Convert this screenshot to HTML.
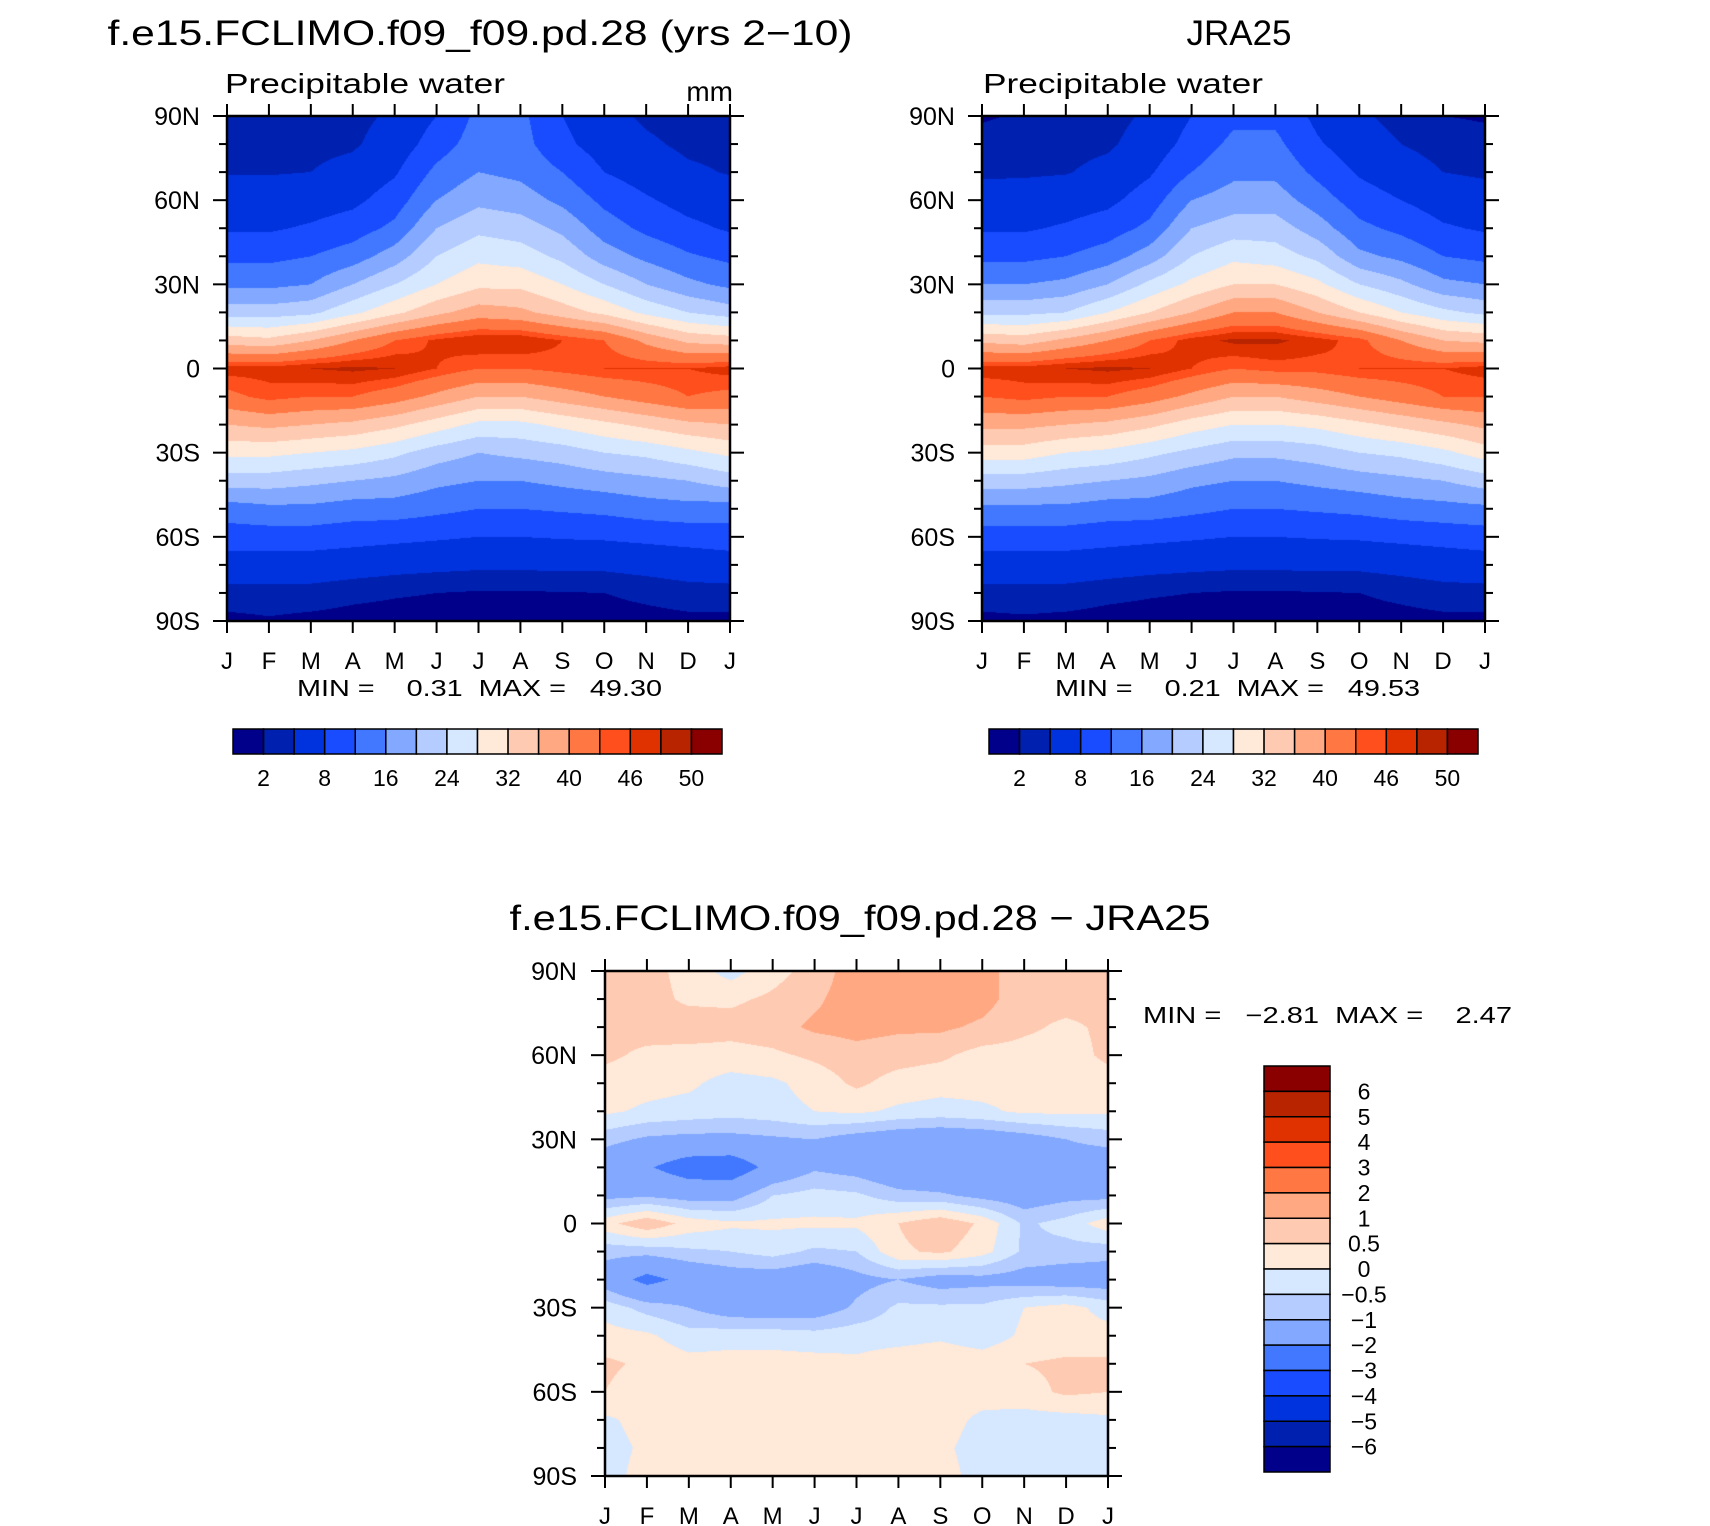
<!DOCTYPE html>
<html><head><meta charset="utf-8">
<style>
html,body{margin:0;padding:0;background:#fff;}
#wrap{position:relative;width:1710px;height:1526px;overflow:hidden;font-family:"Liberation Sans",sans-serif;}
canvas{position:absolute;}
svg{position:absolute;left:0;top:0;}
svg text{font-family:"Liberation Sans",sans-serif;fill:#000;white-space:pre;}
</style></head>
<body>
<div id="wrap">
<canvas id="c1"></canvas>
<canvas id="c2"></canvas>
<canvas id="c3"></canvas>
<svg id="ov" width="1710" height="1526">
<text x="480" y="45" font-size="35" text-anchor="middle" textLength="745" lengthAdjust="spacingAndGlyphs">f.e15.FCLIMO.f09_f09.pd.28 (yrs 2−10)</text>
<text x="225" y="93" font-size="28" textLength="280" lengthAdjust="spacingAndGlyphs">Precipitable water</text>
<text x="733" y="101" font-size="28" text-anchor="end">mm</text>
<text x="297" y="696" font-size="23" textLength="365" lengthAdjust="spacingAndGlyphs">MIN =    0.31  MAX =   49.30</text>
<text x="1239" y="45" font-size="35" text-anchor="middle">JRA25</text>
<text x="983" y="93" font-size="28" textLength="280" lengthAdjust="spacingAndGlyphs">Precipitable water</text>
<text x="1055" y="696" font-size="23" textLength="365" lengthAdjust="spacingAndGlyphs">MIN =    0.21  MAX =   49.53</text>
<text x="860" y="930" font-size="35" text-anchor="middle" textLength="701" lengthAdjust="spacingAndGlyphs">f.e15.FCLIMO.f09_f09.pd.28 − JRA25</text>
<text x="1143" y="1023" font-size="23" textLength="369" lengthAdjust="spacingAndGlyphs">MIN =   −2.81  MAX =    2.47</text>
</svg>
</div>
<script>
const monthLabels=['J','F','M','A','M','J','J','A','S','O','N','D','J'];
const latLabels=['90N','60N','30N','0','30S','60S','90S'];
const latGrid=[90,80,70,60,50,40,30,20,10,0,-10,-20,-30,-40,-50,-60,-70,-80,-90];
const levelsPW=[2,4,8,12,16,20,24,28,32,36,40,44,46,48,50];
const levelLabelsPW=['2','8','16','24','32','40','46','50'];
const levelsDiff=[-6,-5,-4,-3,-2,-1,-0.5,0,0.5,1,2,3,4,5,6];
const levelLabelsDiff=['6','5','4','3','2','1','0.5','0','−0.5','−1','−2','−3','−4','−5','−6'];
const colors=['#00008a','#0020b0','#0033dd','#1a4cff','#4178ff','#82a8ff','#b4ccff','#d6e8ff','#ffe9d8','#ffcab2','#ffa882','#ff7844','#ff4f1c','#e03200','#b82300','#8a0000'];

// model precipitable water, one array per month, lat 90N -> 90S
const modelJan=[3,3.2,3.8,5.5,7.5,11,15,22,34,47,43,36,29,22,14,10,6,3,1.5];
const modelFeb=[3,3.2,3.8,5.5,7.5,11,15,22,33,47,45,37,29,22,15,10,6,3,1.8];
const modelMar=[3,3.3,4,6,8.5,12,16,23,36,48,44,36,28,21,15,10,6,3,1.5];
const modelApr=[3.2,3.6,5,7,10,14,20,27,40,48.5,44,35,27,20,14,9.5,5.5,2.5,1.3];
const modelMay=[4.5,5.5,7.5,10,13,18,24,31,44,48,42,33,25,19,14,9,5,2.2,1.2];
const modelJun=[8,10,13,16,20,24,28,35,46.5,46,39,30,22,17,13,8.5,4.7,2,1.1];
const modelJul=[13,14,16,19,23,27,31,38,48,44,36,27,20,16,12,8,4.5,1.8,1];
const modelAug=[13,13.5,15,18,22,26,31,37,48,44,36,27,21,16,12,8,4.5,1.8,1];
const modelSep=[8,9,12,15,19,23,28,34,46,45,38,29,22,17,12.5,8.3,4.6,1.9,1];
const modelOct=[5,6,8,11,14,18,24,31,44,46,40,31,24,18,13,8.5,4.6,2,1.1];
const modelNov=[3.5,4.5,6,8.5,11,15,20,27,39,46,42,33,25,19,14,9,5,2.5,1.3];
const modelDec=[3,3.4,4.5,6.5,9,12.5,17,24,35,46,44,35,27,20,14.5,9.5,5.5,3,1.5];

// JRA25 precipitable water
const jraJan=[1.8,2.6,3.5,5.5,7.5,11,16,23,35,47,44,37,30,22,15,10,6,3,1.5];
const jraFeb=[2.2,2.8,3.6,5.5,7.5,11,16,23,34,47,45,37,30,22,15,10,6,3,1.7];
const jraMar=[2.5,3,3.8,6,8.5,12,17,24,37,48,44,36,28,21,15,10,6,3,1.5];
const jraApr=[3,3.5,5,7,10,14,20,28,40,48.5,44,35,27,20,14,9.5,5.5,2.5,1.3];
const jraMay=[4.5,5.5,7.5,10,13,18,25,32,44,48,42,33,25,19,14,9,5,2.2,1.2];
const jraJun=[8,9.5,12,16,20,24,29,36,47,46,39,30,23,17,13,8.5,4.7,2,1.1];
const jraJul=[11,13,15,18,22,27,32,40,48.5,44,36,28,21,16,12,8,4.5,1.8,1];
const jraAug=[11,13,15,18,22,26,32,40,48.5,45,36,28,21,16,12,8,4.5,1.8,1];
const jraSep=[7,8.5,11,14,18,23,29,36,47,45,38,29,22,17,12.5,8.3,4.6,1.9,1];
const jraOct=[4.5,5.5,7.5,10,13,17,24,32,45,46,40,31,24,18,13,8.5,4.6,2,1.1];
const jraNov=[3,4,5.5,8,11,15,21,28,40,46,42,33,25,19,14,9,5,2.5,1.3];
const jraDec=[2,3,4,6,8.5,12,17,25,36,46,44,35,27,20,14.5,9.5,5.5,3,1.5];

// difference model - JRA25
const diffJan=[0.7,0.7,0.6,0.6,0.3,0.1,-0.8,-1.5,-1.2,0.3,-0.8,-1.4,-0.2,0.2,0.6,0.5,-0.1,-0.2,-0.2];
const diffFeb=[0.7,0.7,0.7,0.4,0.2,-0.1,-1.1,-1.9,-1.1,0.9,-0.8,-2.3,-0.7,0.1,0.4,0.2,0.2,0.1,0.2];
const diffMar=[0.3,0.4,0.8,0.3,0.1,-0.2,-1.2,-2.5,-1.3,0.3,-0.6,-1.7,-1.0,-0.3,0.2,0.2,0.2,0.2,0.2];
const diffApr=[-0.2,0.4,0.7,0.3,-0.2,-0.3,-1.2,-2.6,-1.3,0.1,-0.5,-1.4,-1.4,-0.2,0.2,0.1,0.2,0.2,0.2];
const diffMay=[0.3,0.6,0.8,0.4,-0.1,-0.2,-1.1,-1.7,-0.5,0.1,-0.3,-1.4,-1.5,-0.2,0.2,0.1,0.2,0.2,0.2];
const diffJun=[0.7,0.9,1.1,0.6,0.2,0.0,-1.0,-1.1,-0.3,0.1,-0.6,-1.6,-1.4,-0.3,0.2,0.2,0.2,0.2,0.2];
const diffJul=[1.3,1.3,1.2,0.8,0.6,0.1,-1.3,-1.3,-0.4,0.1,-0.5,-1.2,-0.9,-0.2,0.1,0.2,0.2,0.2,0.2];
const diffAug=[1.3,1.4,1.1,0.7,0.3,-0.1,-1.5,-1.7,-0.8,0.5,0.4,-1.0,-0.4,-0.2,0.3,0.2,0.2,0.2,0.2];
const diffSep=[1.3,1.4,1.1,0.6,0.2,-0.2,-1.6,-1.8,-0.9,0.9,0.6,-1.3,-0.4,-0.1,0.4,0.2,0.2,0.1,0.2];
const diffOct=[1.2,1.2,0.9,0.3,0.2,-0.1,-1.5,-1.6,-1.2,0.4,0.2,-1.2,-0.4,-0.3,0.3,0.2,-0.1,-0.2,-0.2];
const diffNov=[0.7,0.7,0.6,0.3,0.2,0.1,-1.3,-1.7,-1.4,-0.6,-0.6,-1.3,0.0,0.1,0.5,0.3,-0.2,-0.3,-0.2];
const diffDec=[0.7,0.7,0.4,0.3,0.2,0.1,-1.0,-1.4,-1.2,-0.3,-0.7,-1.4,0.2,0.2,0.6,0.6,-0.2,-0.3,-0.2];

const modelData=[modelJan,modelFeb,modelMar,modelApr,modelMay,modelJun,modelJul,modelAug,modelSep,modelOct,modelNov,modelDec];
const jraData=[jraJan,jraFeb,jraMar,jraApr,jraMay,jraJun,jraJul,jraAug,jraSep,jraOct,jraNov,jraDec];
const diffData=[diffJan,diffFeb,diffMar,diffApr,diffMay,diffJun,diffJul,diffAug,diffSep,diffOct,diffNov,diffDec];

const NS='http://www.w3.org/2000/svg';
const ov=document.getElementById('ov');
function hexRGB(h){return [parseInt(h.substr(1,2),16),parseInt(h.substr(3,2),16),parseInt(h.substr(5,2),16)];}
const rgb=colors.map(hexRGB);

function drawField(id,x0,y0,w,h,data,levels){
  const cv=document.getElementById(id);
  cv.width=w;cv.height=h;cv.style.left=x0+'px';cv.style.top=y0+'px';
  const ctx=cv.getContext('2d');
  const img=ctx.createImageData(w,h);
  const nm=data.length, nl=latGrid.length;
  for(let py=0;py<h;py++){
    const lat=90-180*(py+0.5)/h;
    let jf=(90-lat)/10; let j=Math.min(Math.floor(jf),nl-2); const fy=jf-j;
    for(let px=0;px<w;px++){
      const t=12*(px+0.5)/w; let i=Math.floor(t); const fx=t-i; i=i%nm; const i2=(i+1)%nm;
      const v=(data[i][j]*(1-fx)+data[i2][j]*fx)*(1-fy)+(data[i][j+1]*(1-fx)+data[i2][j+1]*fx)*fy;
      let k=0; while(k<levels.length&&v>=levels[k])k++;
      const c=rgb[k]; const o=(py*w+px)*4;
      img.data[o]=c[0];img.data[o+1]=c[1];img.data[o+2]=c[2];img.data[o+3]=255;
    }
  }
  ctx.putImageData(img,0,0);
}

function line(x1,y1,x2,y2,sw,name){
  const l=document.createElementNS(NS,'line');
  l.setAttribute('x1',x1);l.setAttribute('y1',y1);l.setAttribute('x2',x2);l.setAttribute('y2',y2);
  l.setAttribute('stroke','#000');l.setAttribute('stroke-width',sw);
  
  
  ov.appendChild(l);return l;
}
function txt(x,y,s,size,anchor,name){
  const t=document.createElementNS(NS,'text');
  t.setAttribute('x',x);t.setAttribute('y',y);t.setAttribute('font-size',size);t.setAttribute('text-anchor',anchor);
  t.textContent=s;
  
  
  ov.appendChild(t);return t;
}

function axes(x0,y0,w,h,labelRight,prefix){
  const fr=document.createElementNS(NS,'rect');
  fr.setAttribute('x',x0);fr.setAttribute('y',y0);fr.setAttribute('width',w);fr.setAttribute('height',h);
  fr.setAttribute('fill','none');fr.setAttribute('stroke','#000');fr.setAttribute('stroke-width',2.5);
  
  
  ov.appendChild(fr);
  for(let d=0;d<=18;d++){
    const y=y0+h*d/18; const major=d%3===0; const L=major?14:8;
    line(x0-L,y,x0,y,2,prefix+'-y-tick');
    line(x0+w,y,x0+w+L,y,2,prefix+'-y-tick-right');
    if(major) txt(labelRight,y+9,latLabels[d/3],25,'end',prefix+'-y-label');
  }
  for(let m=0;m<=12;m++){
    const x=x0+w*m/12;
    line(x,y0-12,x,y0,2,prefix+'-x-tick-top');
    line(x,y0+h,x,y0+h+12,2,prefix+'-x-tick');
    txt(x,y0+h+48,monthLabels[m],24,'middle',prefix+'-x-label');
  }
}

function hbar(x0,y0,w,h,prefix){
  const bw=w/colors.length;
  colors.forEach((c,i)=>{
    const r=document.createElementNS(NS,'rect');
    r.setAttribute('x',x0+i*bw);r.setAttribute('y',y0);r.setAttribute('width',bw);r.setAttribute('height',h);
    r.setAttribute('fill',c);r.setAttribute('stroke','#000');r.setAttribute('stroke-width',1.5);
    
    
    ov.appendChild(r);
  });
  levelLabelsPW.forEach((s,k)=>{txt(x0+bw*(2*k+1),y0+h+32,s,23,'middle',prefix+'-colorbar-label');});
}
function vbar(x0,y0,w,h,prefix){
  const bh=h/colors.length;
  colors.forEach((c,i)=>{
    const r=document.createElementNS(NS,'rect');
    r.setAttribute('x',x0);r.setAttribute('y',y0+i*bh);r.setAttribute('width',w);r.setAttribute('height',bh);
    r.setAttribute('fill',colors[colors.length-1-i]);r.setAttribute('stroke','#000');r.setAttribute('stroke-width',1.5);
    
    
    ov.appendChild(r);
  });
  levelLabelsDiff.forEach((s,k)=>{txt(x0+100,y0+bh*(k+1)+8,s,23,'middle',prefix+'-colorbar-label');});
}

drawField('c1',227,116,503,505,modelData,levelsPW);
drawField('c2',982,116,503,505,jraData,levelsPW);
drawField('c3',605,971,503,505,diffData,levelsDiff);
axes(227,116,503,505,200,'model');
axes(982,116,503,505,955,'jra25');
axes(605,971,503,505,577,'difference');
hbar(233,729,489,25,'model');
hbar(989,729,489,25,'jra25');
vbar(1264,1066,66,406,'difference');
</script>
</body></html>
